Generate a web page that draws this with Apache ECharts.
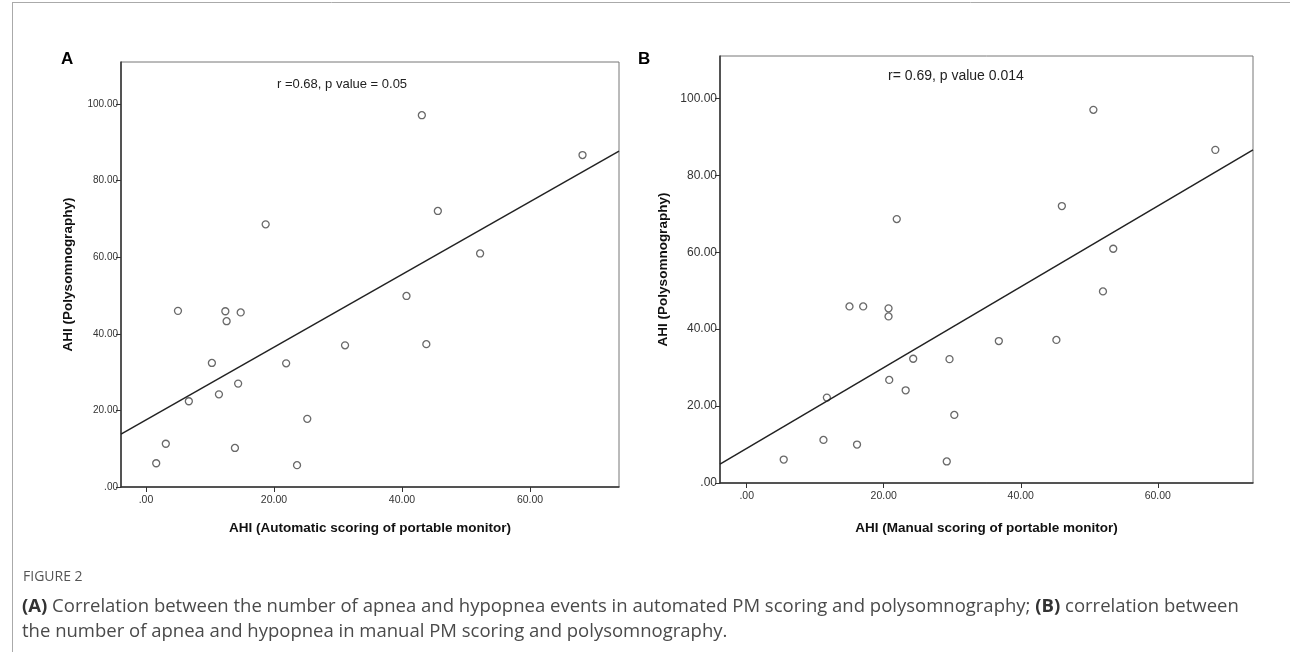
<!DOCTYPE html>
<html>
<head>
<meta charset="utf-8">
<script src="https://cdn.jsdelivr.net/npm/echarts@6/dist/echarts.min.js"></script>
<style>
  html, body { margin: 0; padding: 0; background: #fff; }
  #chart { width: 1290px; height: 652px; }
</style>
</head>
<body>
<div id="chart"></div>
<script>
  // AHI values
  const autoPM = [5.0, 12.4, 14.8, 12.6, 10.3, 21.9, 31.1, 14.4, 11.4, 6.7, 25.2, 3.1, 13.9, 1.6, 23.6, 18.7, 43.1, 45.6, 52.2, 68.2, 40.7, 43.8]
  const psgA = [46.0, 45.9, 45.6, 43.3, 32.4, 32.3, 37.0, 27.0, 24.2, 22.4, 17.8, 11.3, 10.2, 6.2, 5.7, 68.6, 97.1, 72.1, 61.0, 86.7, 49.9, 37.3]
  const manualPM = [15.0, 17.0, 20.7, 20.7, 24.3, 20.8, 23.2, 11.7, 11.2, 16.1, 5.4, 21.9, 50.6, 46.0, 53.5, 52.0, 29.6, 36.8, 45.2, 30.3, 29.2, 68.4]
  const psgB = [45.9, 45.9, 45.4, 43.3, 32.3, 26.8, 24.1, 22.2, 11.2, 10.0, 6.1, 68.6, 97.0, 72.0, 60.9, 49.8, 32.2, 36.9, 37.2, 17.7, 5.6, 86.6]

  // fitted lines: [intercept, slope]
  const fitA = [17.5, 0.95]
  const fitB = [9.0, 1.05]

  const xTicks = [0, 20, 40, 60]
  const yTicks = [0, 20, 40, 60, 80, 100]
  const xRange = [-3.9, 73.9]
  const yRange = [0, 111]

  const fmt = v => (v === 0 ? '.00' : v.toFixed(2))
  const pairs = (xs, ys) => xs.map((x, i) => [x, ys[i]])
  const fitLine = f => xRange.map(x => [x, f[0] + f[1] * x])

  const titleStyle = { fontFamily: 'Liberation Sans', fontWeight: 'bold', fontSize: 13.5, color: '#111' }

  function xAxis(idx, name, gap) {
    return {
      type: 'value', gridIndex: idx, min: xRange[0], max: xRange[1],
      name: name, nameLocation: 'middle', nameGap: gap,
      nameTextStyle: titleStyle,
      axisLine: { onZero: false, lineStyle: { color: '#333', width: 1.5 } },
      axisTick: { show: true, length: 5, customValues: xTicks, lineStyle: { color: '#333' } },
      axisLabel: { customValues: xTicks, formatter: fmt, fontFamily: 'Liberation Sans', fontSize: 10.5, color: '#333', margin: 8 },
      splitLine: { show: false }
    }
  }
  function yAxis(idx, labelSize, gap) {
    return {
      type: 'value', gridIndex: idx, min: yRange[0], max: yRange[1],
      name: 'AHI (Polysomnography)', nameLocation: 'middle', nameGap: gap,
      nameTextStyle: titleStyle,
      axisLine: { onZero: false, lineStyle: { color: '#333', width: 1.5 } },
      axisTick: { show: true, length: 5, customValues: yTicks, lineStyle: { color: '#333' } },
      axisLabel: { customValues: yTicks, formatter: fmt, fontFamily: 'Liberation Sans', fontSize: labelSize, color: '#333', margin: 3 },
      splitLine: { show: false }
    }
  }
  function scatter(idx, data) {
    return {
      type: 'scatter', xAxisIndex: idx, yAxisIndex: idx, data: data,
      symbol: 'circle', symbolSize: 7,
      itemStyle: { color: '#fff', borderColor: '#444', borderWidth: 1.3 }
    }
  }
  function line(idx, data) {
    return {
      type: 'line', xAxisIndex: idx, yAxisIndex: idx, data: data,
      symbol: 'none', lineStyle: { color: '#222', width: 1.5 }
    }
  }

  const chart = echarts.init(document.getElementById('chart'), null, { renderer: 'canvas' })
  chart.setOption({
    animation: false,
    grid: [
      { left: 121, top: 62, width: 498, height: 425, show: true, borderColor: '#777', borderWidth: 1 },
      { left: 720, top: 56, width: 533, height: 427, show: true, borderColor: '#777', borderWidth: 1 }
    ],
    xAxis: [
      xAxis(0, 'AHI (Automatic scoring of portable monitor)', 34),
      xAxis(1, 'AHI (Manual scoring of portable monitor)', 38)
    ],
    yAxis: [yAxis(0, 10, 46), yAxis(1, 12, 50)],
    series: [
      line(0, fitLine(fitA)),
      scatter(0, pairs(autoPM, psgA)),
      line(1, fitLine(fitB)),
      scatter(1, pairs(manualPM, psgB))
    ],
    graphic: [
      // frame
      { type: 'line', shape: { x1: 12, y1: 2.5, x2: 1290, y2: 2.5 }, style: { stroke: '#aaa', lineWidth: 1 } },
      { type: 'line', shape: { x1: 12.5, y1: 2, x2: 12.5, y2: 652 }, style: { stroke: '#aaa', lineWidth: 1 } },
      // panel letters
      { type: 'text', x: 61, y: 51, style: { text: 'A', font: 'bold 17px "Liberation Sans"', fill: '#000' } },
      { type: 'text', x: 638, y: 51, style: { text: 'B', font: 'bold 17px "Liberation Sans"', fill: '#000' } },
      // r / p annotations
      { type: 'text', x: 277, y: 78, style: { text: 'r =0.68, p value = 0.05', font: '13px "Liberation Sans"', fill: '#222' } },
      { type: 'text', x: 888, y: 69, style: { text: 'r= 0.69, p value 0.014', font: '14px "Liberation Sans"', fill: '#222' } },
      // caption
      { type: 'text', x: 23, y: 570, style: { text: 'FIGURE 2', font: '14px "Open Sans"', fill: '#555' } },
      {
        type: 'text', x: 22, y: 594,
        style: {
          text: '{b|(A)} Correlation between the number of apnea and hypopnea events in automated PM scoring and polysomnography; {b|(B)} correlation between\nthe number of apnea and hypopnea in manual PM scoring and polysomnography.',
          font: '18.5px "Open Sans"', fill: '#4a4a4a', lineHeight: 25,
          rich: { b: { fontFamily: 'Open Sans', fontWeight: 'bold', fontSize: 18.5, fill: '#333' } }
        }
      }
    ]
  })
</script>
</body>
</html>
